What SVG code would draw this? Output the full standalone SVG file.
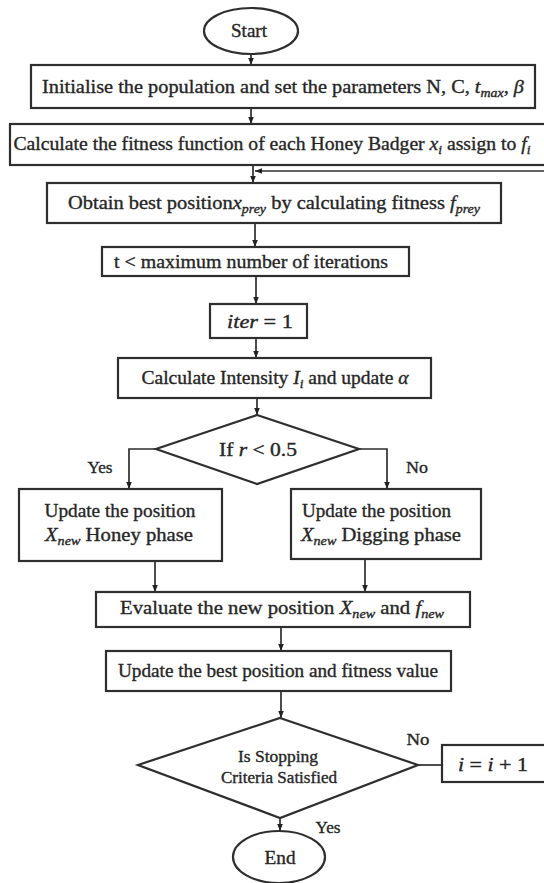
<svg xmlns="http://www.w3.org/2000/svg" width="544" height="883" viewBox="0 0 544 883">
  <style>
    .box { fill: #ffffff; stroke: #2e2e2e; stroke-width: 2.2; }
    .term { fill: #ffffff; stroke: #2e2e2e; stroke-width: 2.2; }
    .wire { fill: none; stroke: #2e2e2e; stroke-width: 1.7; }
    .t { font-family: "Liberation Serif", "Times New Roman", serif; font-size: 19px; fill: #262626; stroke: #262626; stroke-width: 0.35; }
    .s { font-size: 17px; }
    .m { font-size: 16px; }
    .i { font-style: italic; }
    .sub { font-size: 13px; font-style: italic; }
  </style>
  <defs>
    <marker id="ah" viewBox="0 0 10 10" refX="10" refY="5" markerWidth="7" markerHeight="7" orient="auto" markerUnits="userSpaceOnUse">
      <path d="M0,1 L10,5 L0,9 z" fill="#222222"/>
    </marker>
  </defs>
  <rect width="544" height="883" fill="#ffffff"/>

  <!-- connectors and branch labels -->
  <g id="connectors">
    <line class="wire" x1="251" y1="54" x2="251" y2="65" marker-end="url(#ah)"/>
    <line class="wire" x1="251" y1="108" x2="251" y2="124" marker-end="url(#ah)"/>
    <line class="wire" x1="253" y1="165" x2="253" y2="183" marker-end="url(#ah)"/>
    <line class="wire" x1="544" y1="171" x2="255" y2="171" marker-end="url(#ah)"/>
    <line class="wire" x1="255" y1="223" x2="255" y2="247" marker-end="url(#ah)"/>
    <line class="wire" x1="256" y1="276" x2="256" y2="304" marker-end="url(#ah)"/>
    <line class="wire" x1="256" y1="338" x2="256" y2="358" marker-end="url(#ah)"/>
    <line class="wire" x1="257" y1="398" x2="257" y2="415" marker-end="url(#ah)"/>
    <polyline class="wire" points="156,449 129,449 129,489" marker-end="url(#ah)"/>
    <polyline class="wire" points="359,449 387,449 387,489" marker-end="url(#ah)"/>
    <line class="wire" x1="155" y1="561" x2="155" y2="592" marker-end="url(#ah)"/>
    <line class="wire" x1="365" y1="559" x2="365" y2="592" marker-end="url(#ah)"/>
    <line class="wire" x1="281" y1="627" x2="281" y2="651" marker-end="url(#ah)"/>
    <line class="wire" x1="281" y1="691" x2="281" y2="718" marker-end="url(#ah)"/>
    <line class="wire" x1="418" y1="765" x2="442" y2="765"/>
    <line class="wire" x1="280" y1="818" x2="280" y2="831" marker-end="url(#ah)"/>
    <text class="t s" x="100" y="473" text-anchor="middle" textLength="25" lengthAdjust="spacingAndGlyphs">Yes</text>
    <text class="t s" x="417" y="473" text-anchor="middle" textLength="22" lengthAdjust="spacingAndGlyphs">No</text>
    <text class="t s" x="418" y="745" text-anchor="middle" textLength="23" lengthAdjust="spacingAndGlyphs">No</text>
    <text class="t s" x="328" y="833" text-anchor="middle" textLength="25" lengthAdjust="spacingAndGlyphs">Yes</text>
  </g>

  <g id="start">
    <ellipse class="term" cx="251" cy="31" rx="47" ry="23"/>
    <text class="t" x="249" y="37" text-anchor="middle" textLength="36" lengthAdjust="spacingAndGlyphs">Start</text>
  </g>

  <g id="init">
    <rect class="box" x="31" y="65" width="504" height="43"/>
    <text class="t" x="283" y="93" text-anchor="middle" textLength="482" lengthAdjust="spacingAndGlyphs">Initialise the population and set the parameters N, C, <tspan class="i">t</tspan><tspan class="sub" dy="4">max</tspan><tspan dy="-4">, </tspan><tspan class="i">β</tspan></text>
  </g>

  <g id="fitness">
    <rect class="box" x="10" y="124" width="560" height="41"/>
    <text class="t" x="272" y="150" text-anchor="middle" textLength="517" lengthAdjust="spacingAndGlyphs">Calculate the fitness function of each Honey Badger <tspan class="i">x</tspan><tspan class="sub" dy="4">i</tspan><tspan dy="-4"> assign to </tspan><tspan class="i">f</tspan><tspan class="sub" dy="4">i</tspan></text>
  </g>

  <g id="best-prey">
    <rect class="box" x="47" y="183" width="454" height="40"/>
    <text class="t" x="274" y="209" text-anchor="middle" textLength="412" lengthAdjust="spacingAndGlyphs">Obtain best position<tspan class="i">x</tspan><tspan class="sub" dy="4">prey</tspan><tspan dy="-4"> by calculating fitness </tspan><tspan class="i">f</tspan><tspan class="sub" dy="4">prey</tspan></text>
  </g>

  <g id="loop-check">
    <rect class="box" x="102" y="247" width="307" height="29"/>
    <text class="t" x="251" y="268" text-anchor="middle" textLength="274" lengthAdjust="spacingAndGlyphs">t &lt; maximum number of iterations</text>
  </g>

  <g id="iter">
    <rect class="box" x="210" y="304" width="97" height="34"/>
    <text class="t" x="260" y="328" text-anchor="middle" textLength="66" lengthAdjust="spacingAndGlyphs"><tspan class="i">iter</tspan> = 1</text>
  </g>

  <g id="intensity">
    <rect class="box" x="118" y="358" width="313" height="40"/>
    <text class="t" x="275" y="384" text-anchor="middle" textLength="267" lengthAdjust="spacingAndGlyphs">Calculate Intensity <tspan class="i">I</tspan><tspan class="sub" dy="4">i</tspan><tspan dy="-4"> and update </tspan><tspan class="i">α</tspan></text>
  </g>

  <g id="decide-r">
    <polygon class="box" points="257,415 359,449 257,484 156,449"/>
    <text class="t" x="258" y="456" text-anchor="middle" textLength="78" lengthAdjust="spacingAndGlyphs">If <tspan class="i">r</tspan> &lt; 0.5</text>
  </g>

  <g id="honey">
    <rect class="box" x="19" y="489" width="203" height="72"/>
    <text class="t" x="120" y="517" text-anchor="middle" textLength="151" lengthAdjust="spacingAndGlyphs">Update the position</text>
    <text class="t" x="119" y="541" text-anchor="middle" textLength="148" lengthAdjust="spacingAndGlyphs"><tspan class="i">X</tspan><tspan class="sub" dy="4">new</tspan><tspan dy="-4">  Honey phase</tspan></text>
  </g>

  <g id="digging">
    <rect class="box" x="291" y="489" width="190" height="70"/>
    <text class="t" x="302" y="517" textLength="149" lengthAdjust="spacingAndGlyphs">Update the position</text>
    <text class="t" x="301" y="541" textLength="160" lengthAdjust="spacingAndGlyphs"><tspan class="i">X</tspan><tspan class="sub" dy="4">new</tspan><tspan dy="-4">  Digging phase</tspan></text>
  </g>

  <g id="evaluate">
    <rect class="box" x="96" y="592" width="374" height="35"/>
    <text class="t" x="282" y="614" text-anchor="middle" textLength="324" lengthAdjust="spacingAndGlyphs">Evaluate the new position <tspan class="i">X</tspan><tspan class="sub" dy="4">new</tspan><tspan dy="-4">  and  </tspan><tspan class="i">f</tspan><tspan class="sub" dy="4">new</tspan></text>
  </g>

  <g id="update-best">
    <rect class="box" x="106" y="651" width="345" height="40"/>
    <text class="t" x="278" y="677" text-anchor="middle" textLength="320" lengthAdjust="spacingAndGlyphs">Update the best position and fitness value</text>
  </g>

  <g id="decide-stop">
    <polygon class="box" points="280,718 418,765 280,818 138,765"/>
    <text class="t m" x="278" y="762" text-anchor="middle" textLength="80" lengthAdjust="spacingAndGlyphs">Is Stopping</text>
    <text class="t m" x="279" y="783" text-anchor="middle" textLength="116" lengthAdjust="spacingAndGlyphs">Criteria Satisfied</text>
  </g>

  <g id="increment">
    <rect class="box" x="442" y="745" width="120" height="37"/>
    <text class="t" x="493" y="771" text-anchor="middle" textLength="70" lengthAdjust="spacingAndGlyphs"><tspan class="i">i</tspan> = <tspan class="i">i</tspan> + 1</text>
  </g>

  <g id="end">
    <ellipse class="term" cx="279" cy="857" rx="46" ry="26"/>
    <text class="t" x="280" y="864" text-anchor="middle" textLength="31" lengthAdjust="spacingAndGlyphs">End</text>
  </g>
</svg>
